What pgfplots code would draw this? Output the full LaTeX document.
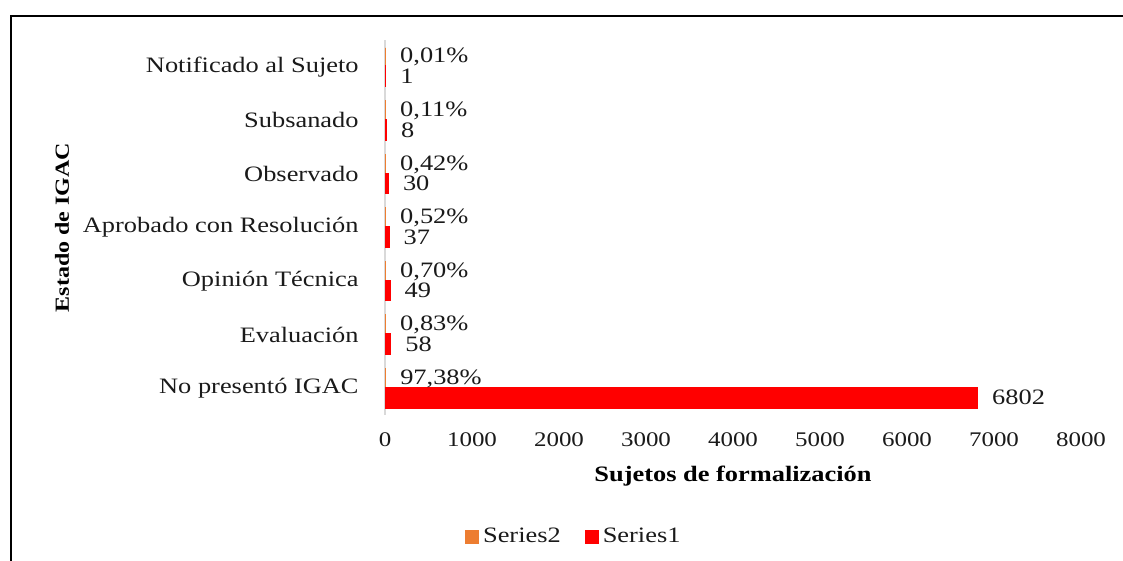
\documentclass[border=0pt]{standalone}
\usepackage{fontspec}
\setmainfont{Liberation Serif}[FakeStretch=1.2]
\usepackage{pgfplots}
\pgfplotsset{compat=1.18}
\usepackage{pgfplotstable}

\definecolor{serA}{HTML}{FF0000}
\definecolor{serB}{HTML}{ED7D31}
\definecolor{axgray}{HTML}{D9D9D9}
\definecolor{txt}{HTML}{1A1A1A}

% y: category index (0 = bottom), s1: Series1 count, s2: Series2 share
\pgfplotstableread{
y s1 s2 lab
0 6802 0.9738 {97,38\%}
1 58 0.0083 {0,83\%}
2 49 0.0070 {0,70\%}
3 37 0.0052 {0,52\%}
4 30 0.0042 {0,42\%}
5 8 0.0011 {0,11\%}
6 1 0.0001 {0,01\%}
}\igac

\newcommand\lbl{\fontsize{11}{13}\selectfont}

\begin{document}
\begin{tikzpicture}[x=1pt,y=1pt]
\useasboundingbox (0,0) rectangle (561.5,280.5);
\draw[line width=1pt] (5.5,0) -- (5.5,272.5) -- (561.5,272.5);
\begin{axis}[
  at={(192.5pt,73pt)}, anchor=south west,
  scale only axis, width=348pt, height=187.5pt,
  xbar, bar width=9.5pt,
  xmin=0, xmax=8000, ymin=-0.5, ymax=6.5,
  xtick={0,1000,...,8000},
  ytick={0,...,6},
  yticklabels={No presentó IGAC,Evaluación,Opinión Técnica,Aprobado con Resolución,Observado,Subsanado,Notificado al Sujeto},
  /pgf/number format/assume math mode=true,
  /pgf/number format/1000 sep={},
  axis lines*=left,
  axis on top=false,
  x axis line style={draw=none},
  y axis line style={draw=axgray, line width=0.6pt},
  major tick length=0pt,
  xticklabel style={anchor=center, yshift=-12.5pt, font=\fontsize{10.4}{12}\selectfont, text=txt},
  yticklabel style={anchor=east, inner sep=0pt, xshift=-13pt, font=\lbl, text=txt},
  xlabel={\textbf{Sujetos de formalización}},
  ylabel={\textbf{Estado de IGAC}},
  every axis x label/.style={at={(axis description cs:0.5,-0.1627)}, anchor=center, font=\lbl},
  every axis y label/.style={at={(axis description cs:-0.464,0.5)}, anchor=center, rotate=90, font=\fontsize{10}{12}\selectfont},
  legend style={at={(axis description cs:0.273,-0.325)}, anchor=center, draw=none, fill=none,
    legend columns=2, font=\lbl, text=txt,
    /tikz/every even column/.append style={column sep=10pt}},
  legend image code/.code={\fill[#1] (0pt,-2.8pt) rectangle (5.6pt,2.8pt);},
  every node near coord/.append style={anchor=west, inner sep=0pt, xshift=7pt, font=\lbl, text=txt},
]
\addplot[fill=serB, draw=serB, line width=1.2pt, bar shift=4.75pt,
  nodes near coords, point meta=explicit symbolic]
  table[x=s2, y=y, meta=lab] {\igac};
\addlegendentry{Series2}
\addplot[fill=serA, draw=serA, line width=1.4pt, bar shift=-4.75pt,
  nodes near coords, point meta=x]
  table[x=s1, y=y] {\igac};
\addlegendentry{Series1}
\end{axis}
\end{tikzpicture}
\end{document}
